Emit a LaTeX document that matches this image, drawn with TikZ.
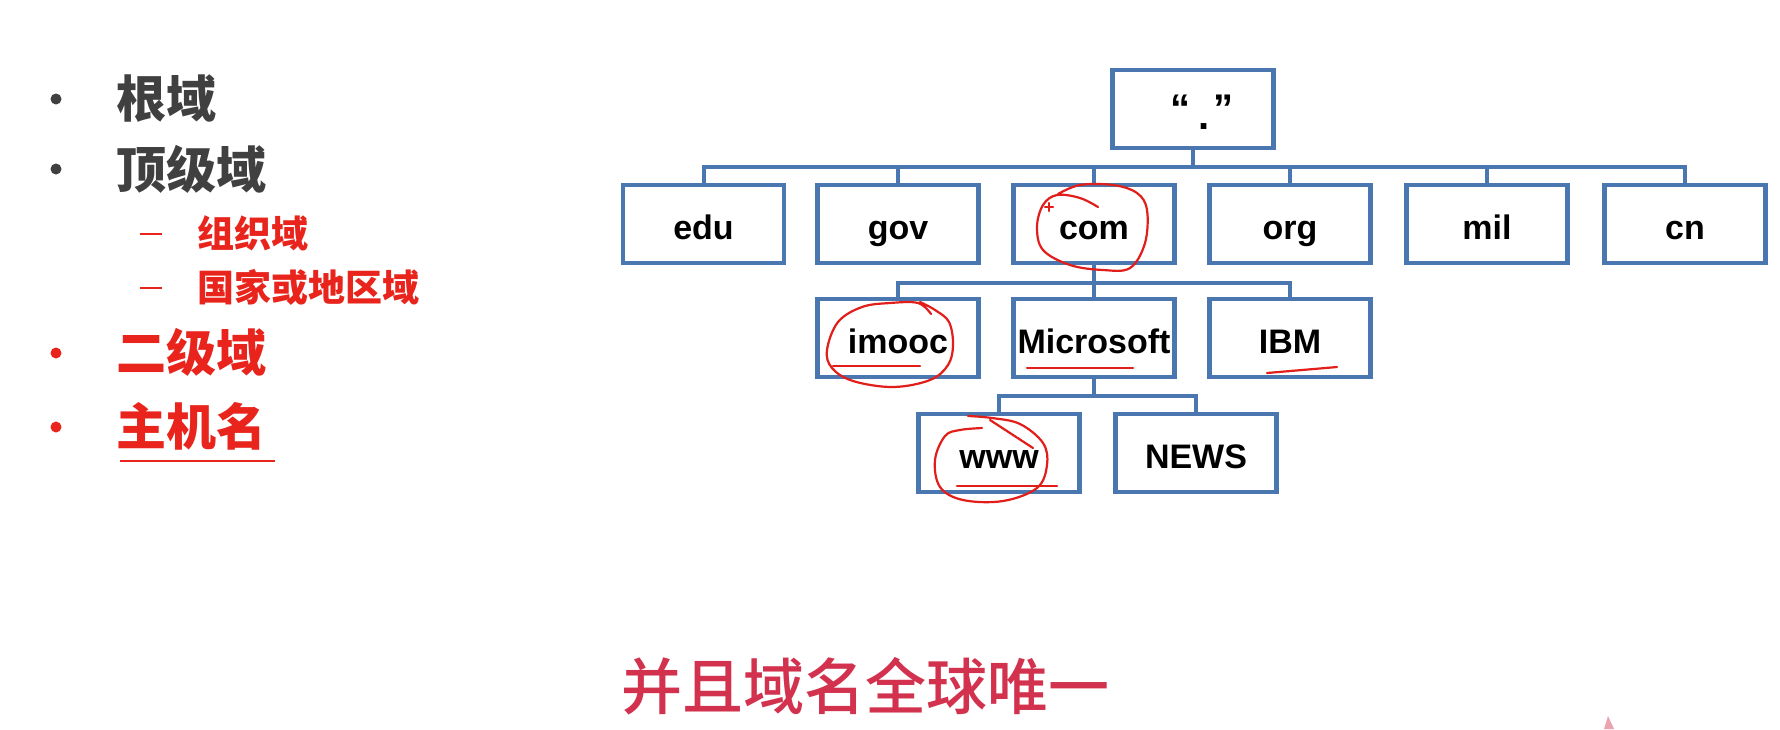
\documentclass[tikz,border=0pt]{standalone}
\usepackage{fontspec}
\setmainfont{Liberation Sans}
\newfontfamily\cjk{Noto Sans CJK SC}
\newfontfamily\cjkmed{Noto Sans CJK SC Medium}
\definecolor{boxblue}{RGB}{74,119,176}
\definecolor{txtgray}{RGB}{64,64,64}
\definecolor{listred}{RGB}{232,36,28}
\definecolor{penred}{RGB}{225,30,25}
\definecolor{slogan}{RGB}{210,50,78}
\begin{document}
\begin{tikzpicture}[x=0.5pt,y=-0.5pt,
  dnsbox/.style={draw=boxblue,line width=2.4pt,minimum width=80.5pt,minimum height=39pt,inner sep=0pt,
    text height=16.5pt,text depth=1.5pt,font=\bfseries\fontsize{17}{20}\selectfont,text=black},
  conn/.style={draw=boxblue,line width=2pt},
  hand/.style={draw=penred,line width=1.1pt,line cap=round,line join=round},
  bigitem/.style={anchor=west,inner sep=0pt,font=\cjk\bfseries\fontsize{25}{28}\selectfont},
  subitem/.style={anchor=west,inner sep=0pt,font=\cjk\bfseries\fontsize{18.5}{21}\selectfont,text=listred},
  dot/.style={circle,inner sep=0pt,minimum size=5.5pt}]
\path[fill=white,use as bounding box] (0,0) rectangle (1780,729);

% left list
\node[dot,fill=txtgray] (d1) at (56,99) {};
\node[bigitem,text=txtgray] (t1) at (116,99) {根域};
\node[dot,fill=txtgray] (d2) at (56,169) {};
\node[bigitem,text=txtgray] (t2) at (116,169) {顶级域};
\draw[listred,line width=1pt] (140,234) -- (162,234);
\node[subitem] (s1) at (197,233) {组织域};
\draw[listred,line width=1pt] (140,288) -- (162,288);
\node[subitem] (s2) at (197,287) {国家或地区域};
\node[dot,fill=listred] (d3) at (56,353) {};
\node[bigitem,text=listred] (t3) at (116,352) {二级域};
\node[dot,fill=listred] (d4) at (56,427) {};
\node[bigitem,text=listred] (t4) at (116,426) {主机名};
\draw[listred,line width=1pt] (120,461) -- (275,461);

% tree
\node[dnsbox] (root) at (1193,109) {\fontsize{20}{20}\selectfont\kern9pt\raisebox{1pt}{“}\kern4pt\raisebox{-2.5pt}{.}\kern1.5pt\raisebox{1pt}{”}};
\node[dnsbox] (edu) at (703.5,224) {edu};
\node[dnsbox] (gov) at (898,224) {gov};
\node[dnsbox] (com) at (1094,224) {com};
\node[dnsbox] (org) at (1290,224) {org};
\node[dnsbox] (mil) at (1487,224) {mil};
\node[dnsbox] (cn) at (1685,224) {cn};
\node[dnsbox] (imooc) at (898,338) {imooc};
\node[dnsbox] (ms) at (1094,338) {Microsoft};
\node[dnsbox] (ibm) at (1290,338) {IBM};
\node[dnsbox] (www) at (999,453) {www};
\node[dnsbox] (news) at (1196,453) {NEWS};

\coordinate (b1) at (1193,167);
\coordinate (b2) at (1094,283);
\coordinate (b3) at (1094,396);
\foreach \c in {edu,gov,com,org,mil,cn}
  \draw[conn] (root.south) -- (root.south |- b1) -| (\c.north);
\foreach \c in {imooc,ms,ibm}
  \draw[conn] (com.south) -- (com.south |- b2) -| (\c.north);
\foreach \c in {www,news}
  \draw[conn] (ms.south) -- (ms.south |- b3) -| (\c.north);

% hand-drawn annotations
\draw[hand] plot[smooth,tension=0.6] coordinates {(1098,207) (1080,198) (1057,195) (1043,205) (1037,227) (1043,250) (1070,265) (1103,270) (1130,268) (1145,243) (1147,210) (1137,193) (1113,185) (1080,185) (1058,194)};
\draw[hand] (1045,207) -- (1053,207) (1049,203) -- (1049,211);
\draw[hand] plot[smooth,tension=0.6] coordinates {(931,314) (918,303) (890,303) (862,307) (838,322) (827,350) (832,368) (853,381) (893,387) (930,380) (948,365) (953,345) (949,322) (935,310) (920,302)};
\draw[hand] (833,366) -- (920,366);
\draw[hand] (1027,368) -- (1133,368);
\draw[hand] (1267,373) -- (1337,367);
\draw[hand] plot[smooth,tension=0.6] coordinates {(982,428) (960,430) (945,436) (935,460) (940,487) (963,500) (1003,501) (1037,488) (1047,465) (1043,443) (1020,424) (992,418) (968,416)};
\draw[hand] (990,420) -- (1033,448);
\draw[hand] (957,486) -- (1057,486);

% slogan
\node[inner sep=0pt,font=\cjkmed\fontsize{30.5}{34}\selectfont,text=slogan] (slogan) at (865,686) {并且域名全球唯一};

% watermark fragment
\fill[slogan!45] (1604,729) -- (1608,716) -- (1614,729) -- cycle;
\end{tikzpicture}
\end{document}
